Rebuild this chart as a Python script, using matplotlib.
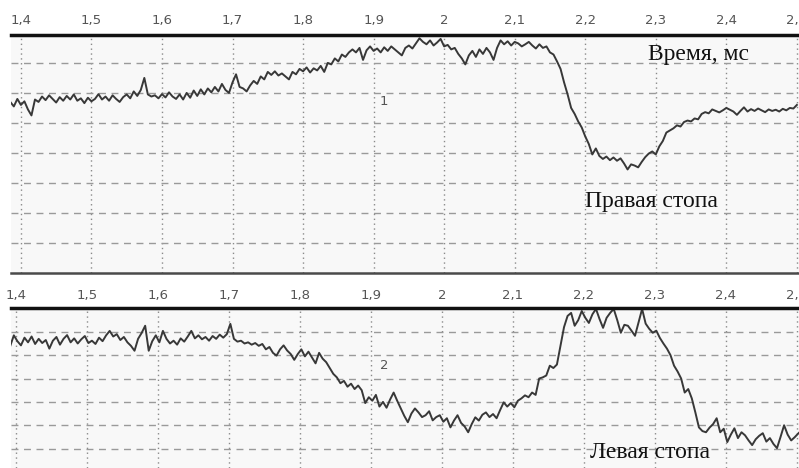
import numpy as np
import matplotlib
matplotlib.use("Agg")
import matplotlib.pyplot as plt

# ── Data ──────────────────────────────────────────────────────────────────────
# time ticks (ms) shown along the top of each panel
tick_vals = [1.4, 1.5, 1.6, 1.7, 1.8, 1.9, 2.0, 2.1, 2.2, 2.3, 2.4, 2.5]
tick_labels = ["1,4", "1,5", "1,6", "1,7", "1,8", "1,9", "2", "2,1", "2,2", "2,3", "2,4", "2,5"]

right_t0, right_dt = 1.385, 0.005
right_foot = [
    5.70, 5.55, 5.80, 5.60, 5.72, 5.45, 5.25,
    5.78, 5.70, 5.88, 5.76, 5.92, 5.80, 5.68, 5.86, 5.74, 5.90,
    5.78, 5.95, 5.74, 5.82, 5.66, 5.84, 5.72, 5.80, 5.96, 5.78,
    5.88, 5.74, 5.92, 5.80, 5.70, 5.86, 5.95, 5.82, 6.05, 5.90,
    6.10, 6.50, 5.95, 5.88, 5.92, 5.82, 5.96, 5.85, 6.02, 5.88,
    5.80, 5.95, 5.78, 6.00, 5.84, 6.08, 5.90, 6.12, 5.95, 6.15,
    6.02, 6.20, 6.05, 6.30, 6.10, 6.00, 6.35, 6.62, 6.20, 6.15,
    6.05, 6.25, 6.40, 6.30, 6.55, 6.45, 6.70, 6.60, 6.72, 6.58,
    6.65, 6.55, 6.45, 6.70, 6.62, 6.80, 6.72, 6.85, 6.68, 6.82,
    6.75, 6.90, 6.70, 7.00, 6.95, 7.15, 7.05, 7.28, 7.20, 7.35,
    7.45, 7.35, 7.50, 7.10, 7.42, 7.55, 7.40, 7.48, 7.35, 7.52,
    7.40, 7.55, 7.45, 7.35, 7.25, 7.50, 7.58, 7.48, 7.65, 7.82,
    7.70, 7.62, 7.75, 7.58, 7.68, 7.80, 7.55, 7.60, 7.45, 7.50,
    7.30, 7.15, 6.95, 7.25, 7.40, 7.20, 7.45, 7.30, 7.50, 7.35,
    7.10, 7.50, 7.75, 7.62, 7.72, 7.58, 7.70, 7.65, 7.55, 7.62,
    7.70, 7.58, 7.48, 7.62, 7.50, 7.55, 7.35, 7.28, 7.05, 6.80,
    6.35, 5.95, 5.50, 5.30, 5.05, 4.85, 4.55, 4.30, 3.95, 4.15,
    3.90, 3.80, 3.88, 3.76, 3.85, 3.74, 3.82, 3.65, 3.45, 3.62,
    3.58, 3.52, 3.70, 3.86, 3.98, 4.05, 3.95, 4.22, 4.40, 4.68,
    4.75, 4.82, 4.92, 4.88, 5.03, 5.08, 5.05, 5.15, 5.12, 5.30,
    5.36, 5.32, 5.45, 5.40, 5.35, 5.42, 5.50, 5.44, 5.38, 5.27,
    5.40, 5.52, 5.38, 5.46, 5.40, 5.48, 5.42, 5.36, 5.45, 5.40,
    5.44, 5.38, 5.47, 5.42, 5.50, 5.48, 5.60,
]

left_t0, left_dt = 1.392, 0.005
left_foot = [
    5.40, 5.85, 5.60, 5.42, 5.75, 5.55, 5.80, 5.48, 5.70, 5.52,
    5.65, 5.28, 5.62, 5.78, 5.45, 5.70, 5.86, 5.55, 5.72, 5.50,
    5.68, 5.82, 5.52, 5.62, 5.48, 5.75, 5.60, 5.85, 6.04, 5.80,
    5.90, 5.65, 5.78, 5.55, 5.40, 5.19, 5.70, 5.95, 6.26, 5.19,
    5.60, 5.85, 5.55, 6.04, 5.70, 5.50, 5.62, 5.45, 5.72, 5.58,
    5.80, 6.04, 5.72, 5.85, 5.68, 5.78, 5.62, 5.82, 5.70, 5.88,
    5.75, 5.90, 6.34, 5.70, 5.58, 5.62, 5.50, 5.55, 5.45, 5.52,
    5.40, 5.48, 5.25, 5.35, 5.10, 4.98, 5.25, 5.42, 5.20, 5.05,
    4.80, 5.05, 5.25, 4.95, 5.15, 4.90, 4.65, 5.10, 4.85, 4.70,
    4.45, 4.20, 4.05, 3.80, 3.90, 3.65, 3.78, 3.55, 3.70, 3.50,
    2.95, 3.20, 3.05, 3.30, 2.80, 3.00, 2.75, 3.10, 3.40, 3.05,
    2.72, 2.40, 2.13, 2.50, 2.72, 2.55, 2.35, 2.43, 2.60, 2.21,
    2.35, 2.43, 2.15, 2.30, 1.91, 2.20, 2.43, 2.10, 1.95, 1.70,
    2.05, 2.34, 2.20, 2.45, 2.55, 2.35, 2.48, 2.30, 2.65, 2.98,
    2.80, 2.95, 2.77, 3.05, 3.15, 3.28, 3.20, 3.40, 3.30, 4.00,
    4.05, 4.13, 4.55, 4.45, 4.60, 5.40, 6.20, 6.68, 6.81, 6.26,
    6.50, 6.89, 6.60, 6.38, 6.75, 6.98, 6.55, 6.17, 6.60, 6.81,
    6.98, 6.50, 5.96, 6.30, 6.26, 6.05, 5.83, 6.40, 6.98, 6.35,
    6.13, 5.96, 6.05, 5.74, 5.50, 5.28, 5.00, 4.55, 4.30, 4.00,
    3.40, 3.55, 3.15, 2.55, 1.91, 1.75, 1.70, 1.90, 2.05, 2.30,
    1.70, 1.85, 1.28, 1.60, 1.87, 1.45, 1.70, 1.57, 1.35, 1.15,
    1.40, 1.55, 1.66, 1.30, 1.45, 1.20, 1.02, 1.50, 2.00, 1.60,
    1.35, 1.49, 1.65, 1.79,
]

t_right = right_t0 + right_dt * np.arange(len(right_foot))
t_left = left_t0 + left_dt * np.arange(len(left_foot))

# ── Figure ────────────────────────────────────────────────────────────────────
fig = plt.figure(figsize=(7.99, 4.68), dpi=100, facecolor="white")
ax1 = fig.add_axes([11 / 799, 195 / 468, 788 / 799, 238 / 468])
ax2 = fig.add_axes([11 / 799, 0.0, 788 / 799, 160 / 468])

trace_kw = dict(color="#383838", lw=1.4)
ax1.plot(t_right, right_foot, **trace_kw)
ax2.plot(t_left, left_foot, **trace_kw)

ax1.set_xlim(1.386, 2.503)
ax1.set_ylim(0, 7.93)
ax2.set_xlim(1.393, 2.503)
ax2.set_ylim(0.17, 7.02)

for ax, pad in [(ax1, 6), (ax2, 4)]:
    ax.set_facecolor("#f8f8f8")
    ax.set_xticks(tick_vals)
    ax.set_xticklabels(tick_labels)
    ax.xaxis.set_ticks_position("top")
    ax.tick_params(axis="x", length=0, pad=pad, labelsize=9.5, labelcolor="#555555")
    ax.set_yticks(range(1, 8))
    ax.tick_params(axis="y", left=False, labelleft=False)
    ax.grid(axis="x", color="#8a8a8a", lw=1.0, ls=(0, (1, 2.5)))
    ax.grid(axis="y", color="#9a9a9a", lw=1.0, ls=(0, (5, 4)))
    ax.set_axisbelow(True)
    ax.spines["left"].set_visible(False)
    ax.spines["right"].set_visible(False)
    ax.spines["top"].set_color("#111111")
    ax.spines["top"].set_linewidth(2.5)

ax1.spines["bottom"].set_color("#4a4a4a")
ax1.spines["bottom"].set_linewidth(1.8)
ax2.spines["bottom"].set_visible(False)

serif = ["Liberation Serif", "DejaVu Serif"]
ax1.text(2.289, 7.27, "Время, мс", family=serif, fontsize=17, va="center", ha="left", color="#111111")
ax1.text(2.2, 2.37, "Правая стопа", family=serif, fontsize=17, va="center", ha="left", color="#111111")
ax2.text(2.208, 0.85, "Левая стопа", family=serif, fontsize=17, va="center", ha="left", color="#111111")
ax1.text(1.909, 5.7, "1", fontsize=9.5, color="#555555", va="center", ha="left")
ax2.text(1.913, 4.55, "2", fontsize=9.5, color="#555555", va="center", ha="left")

fig.savefig("out.png", dpi=100)
